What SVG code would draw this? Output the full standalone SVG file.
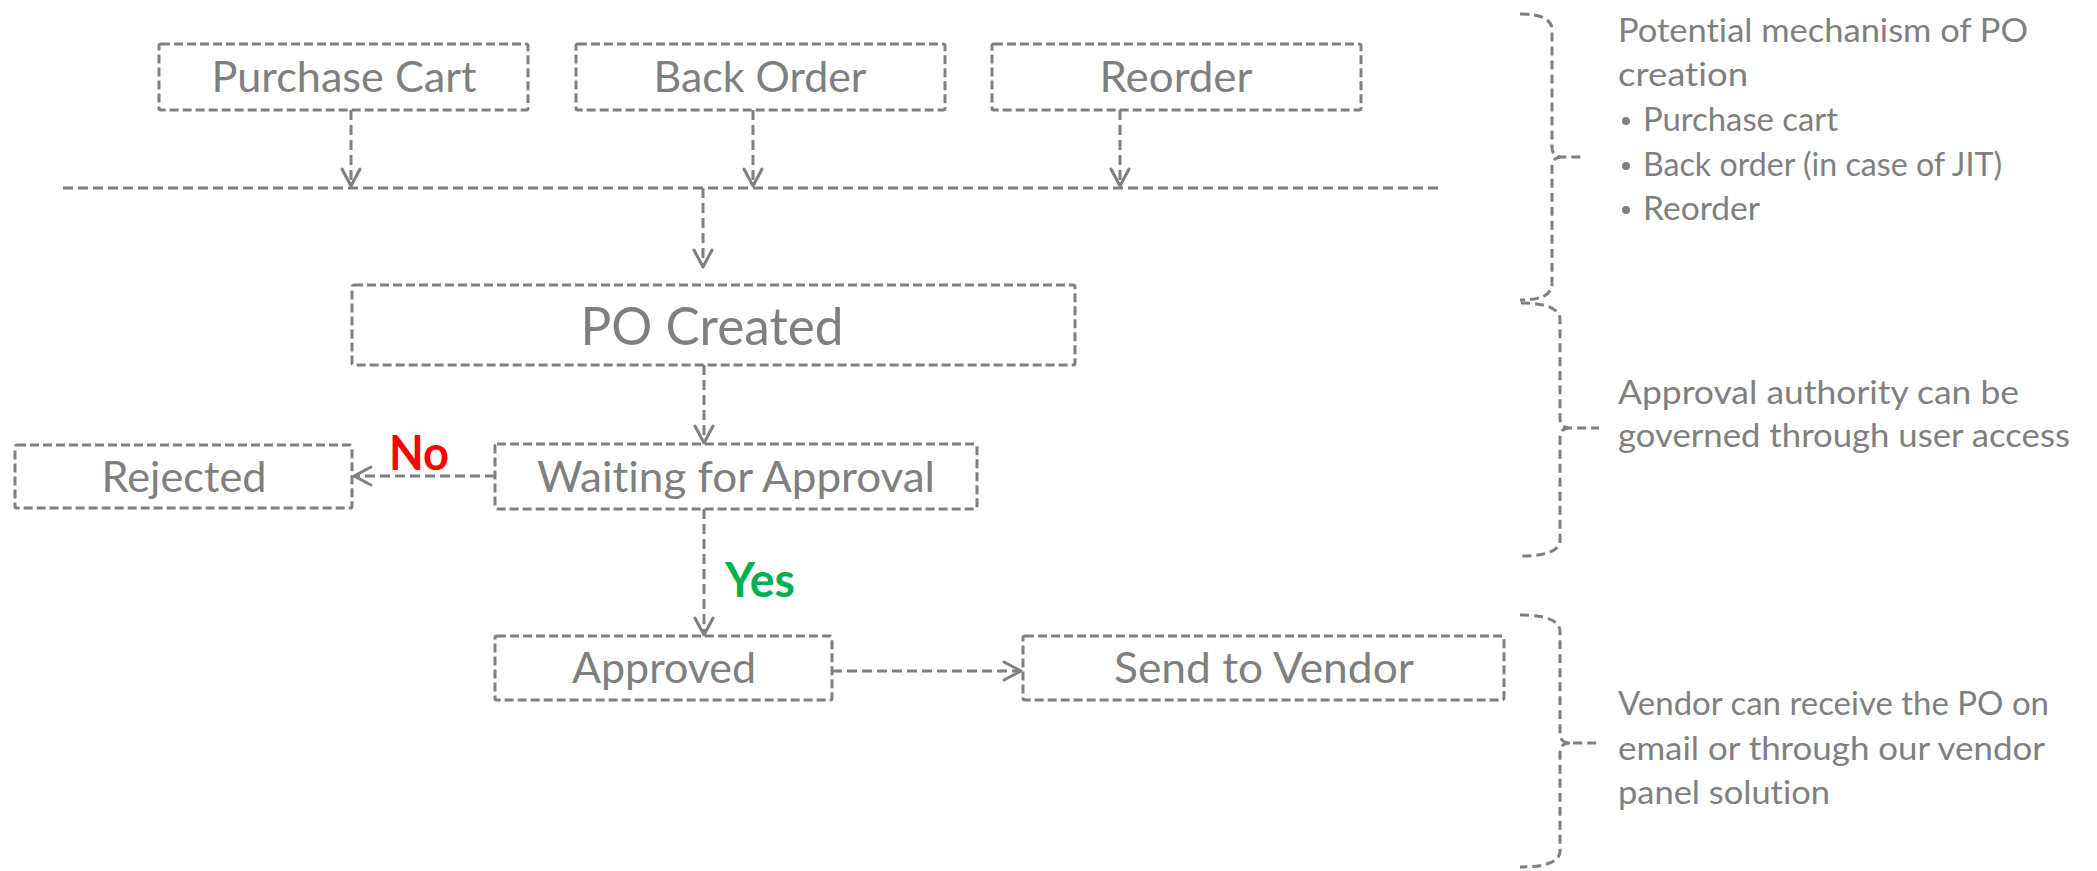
<svg xmlns="http://www.w3.org/2000/svg" width="2097" height="871" viewBox="0 0 2097 871">
  <style>
    text { font-variant-ligatures: none; font-feature-settings: "liga" 0, "clig" 0; }
    .box { fill: none; stroke: #7f7f7f; stroke-width: 3; stroke-dasharray: 9 4; }
    .lbl { font-family: Lato, "Open Sans", "Liberation Sans", sans-serif; font-size: 42px; fill: #7f7f7f; text-anchor: middle; }
    .big { font-size: 53px; }
    .conn { fill: none; stroke: #7f7f7f; stroke-width: 3; stroke-dasharray: 10 5; }
    .brace { fill: none; stroke: #7f7f7f; stroke-width: 3; stroke-dasharray: 9 5; }
    .note { font-family: Lato, "Open Sans", "Liberation Sans", sans-serif; font-size: 32px; fill: #7f7f7f; }
    .yn { font-family: Lato, "Open Sans", "Liberation Sans", sans-serif; font-size: 47px; font-weight: bold; }
    .head { fill: none; stroke: #7f7f7f; stroke-width: 3; stroke-linecap: round; stroke-linejoin: round; }
  </style>
  <defs>
    <marker id="arrow" markerUnits="userSpaceOnUse" markerWidth="24" markerHeight="24" viewBox="-20 -12 24 24" refX="0" refY="0" orient="auto">
      <path class="head" d="M-17,-9 L0,0 L-17,9"/>
    </marker>
  </defs>

  <!-- source nodes -->
  <g id="purchase-cart">
    <rect class="box" x="159" y="44" width="369" height="66" rx="2"/>
    <text class="lbl" x="344" y="92" textLength="265" lengthAdjust="spacingAndGlyphs">Purchase Cart</text>
  </g>
  <g id="back-order">
    <rect class="box" x="576" y="44" width="369" height="66" rx="2"/>
    <text class="lbl" x="760" y="92" textLength="213" lengthAdjust="spacingAndGlyphs">Back Order</text>
  </g>
  <g id="reorder">
    <rect class="box" x="992" y="44" width="369" height="66" rx="2"/>
    <text class="lbl" x="1176" y="92" textLength="153" lengthAdjust="spacingAndGlyphs">Reorder</text>
  </g>

  <!-- process nodes -->
  <g id="po-created">
    <rect class="box" x="352" y="285" width="723" height="80" rx="2"/>
    <text class="lbl big" x="712" y="345" textLength="263" lengthAdjust="spacingAndGlyphs">PO Created</text>
  </g>
  <g id="waiting">
    <rect class="box" x="495" y="444" width="482" height="65" rx="2"/>
    <text class="lbl" x="736" y="492" textLength="398" lengthAdjust="spacingAndGlyphs">Waiting for Approval</text>
  </g>
  <g id="rejected">
    <rect class="box" x="15" y="445" width="337" height="63" rx="2"/>
    <text class="lbl" x="184" y="492" textLength="165" lengthAdjust="spacingAndGlyphs">Rejected</text>
  </g>
  <g id="approved">
    <rect class="box" x="495" y="636" width="337" height="64" rx="2"/>
    <text class="lbl" x="664" y="683" textLength="184" lengthAdjust="spacingAndGlyphs">Approved</text>
  </g>
  <g id="send-to-vendor">
    <rect class="box" x="1023" y="636" width="481" height="64" rx="2"/>
    <text class="lbl" x="1264" y="683" textLength="300" lengthAdjust="spacingAndGlyphs">Send to Vendor</text>
  </g>

  <!-- connectors -->
  <g id="connectors">
    <line class="conn" x1="351" y1="110" x2="351" y2="186" marker-end="url(#arrow)"/>
    <line class="conn" x1="753" y1="110" x2="753" y2="186" marker-end="url(#arrow)"/>
    <line class="conn" x1="1120" y1="110" x2="1120" y2="186" marker-end="url(#arrow)"/>
    <line class="conn" x1="63" y1="188" x2="1440" y2="188" stroke-dasharray="10 4"/>
    <line class="conn" x1="703" y1="188" x2="703" y2="267" marker-end="url(#arrow)"/>
    <line class="conn" x1="704" y1="365" x2="704" y2="443" marker-end="url(#arrow)"/>
    <line class="conn" x1="495" y1="476" x2="354" y2="476" marker-end="url(#arrow)"/>
    <line class="conn" x1="704" y1="509" x2="704" y2="635" marker-end="url(#arrow)"/>
    <line class="conn" x1="832" y1="671" x2="1021" y2="671" marker-end="url(#arrow)"/>
    <text class="yn" x="389" y="470" fill="#ff0000" textLength="60" lengthAdjust="spacingAndGlyphs">No</text>
    <text class="yn" x="725" y="597" fill="#00b050" textLength="70" lengthAdjust="spacingAndGlyphs">Yes</text>
  </g>

  <!-- side notes with braces -->
  <g id="note-creation">
    <path class="brace" d="M1520,14 Q1552,14 1552,30 L1552,147 Q1552,157 1562,157 L1585,157 M1562,157 Q1552,157 1552,167 L1552,284 Q1552,300 1520,300"/>
    <text class="note" x="1618" y="42" textLength="410" lengthAdjust="spacingAndGlyphs">Potential mechanism of PO</text>
    <text class="note" x="1618" y="86" textLength="130" lengthAdjust="spacingAndGlyphs">creation</text>
    <circle cx="1626" cy="121" r="4" fill="#7f7f7f"/>
    <text class="note" x="1643" y="131" textLength="195" lengthAdjust="spacingAndGlyphs">Purchase cart</text>
    <circle cx="1626" cy="166" r="4" fill="#7f7f7f"/>
    <text class="note" x="1643" y="176" textLength="359" lengthAdjust="spacingAndGlyphs">Back order (in case of JIT)</text>
    <circle cx="1626" cy="210" r="4" fill="#7f7f7f"/>
    <text class="note" x="1643" y="220" textLength="117" lengthAdjust="spacingAndGlyphs">Reorder</text>
  </g>
  <g id="note-approval">
    <path class="brace" d="M1521,303 Q1560,303 1560,320 L1560,418 Q1560,428 1570,428 L1599,428 M1570,428 Q1560,428 1560,438 L1560,540 Q1560,556 1521,556"/>
    <text class="note" x="1618" y="404" textLength="401" lengthAdjust="spacingAndGlyphs">Approval authority can be</text>
    <text class="note" x="1618" y="447" textLength="452" lengthAdjust="spacingAndGlyphs">governed through user access</text>
  </g>
  <g id="note-vendor">
    <path class="brace" d="M1520,615 Q1560,615 1560,632 L1560,733 Q1560,743 1570,743 L1599,743 M1570,743 Q1560,743 1560,753 L1560,851 Q1560,867 1520,867"/>
    <text class="note" x="1618" y="715" textLength="431" lengthAdjust="spacingAndGlyphs">Vendor can receive the PO on</text>
    <text class="note" x="1618" y="760" textLength="427" lengthAdjust="spacingAndGlyphs">email or through our vendor</text>
    <text class="note" x="1618" y="804" textLength="212" lengthAdjust="spacingAndGlyphs">panel solution</text>
  </g>
</svg>
